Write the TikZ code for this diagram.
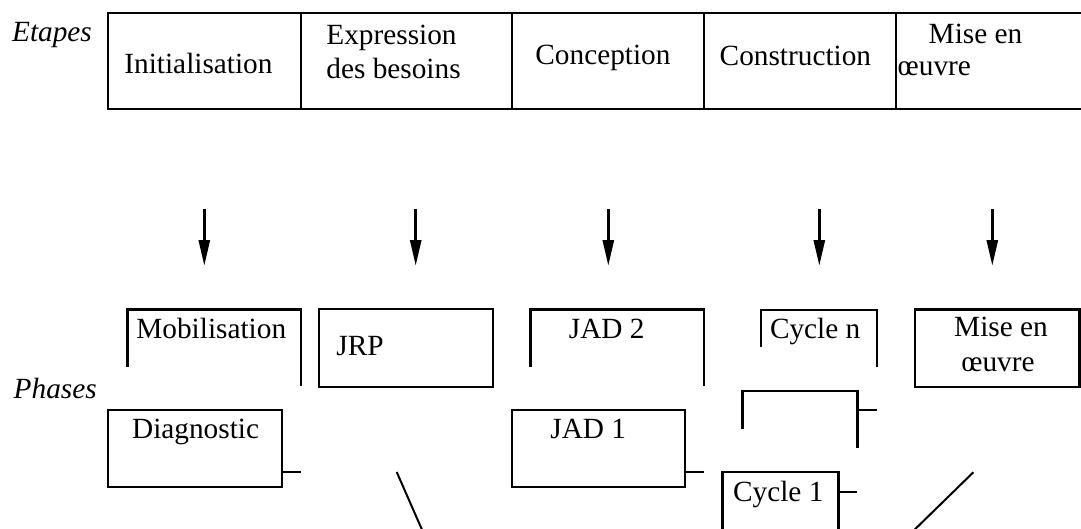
\documentclass[tikz,border=0pt]{standalone}
\usepackage{fontspec}
\setmainfont{Liberation Serif}
\usetikzlibrary{arrows.meta}
\begin{document}
\begin{tikzpicture}[x=0.5pt,y=-0.5pt,
  txt/.style={inner sep=0pt, anchor=base west, font=\fontsize{14.65}{17.5}\selectfont},
  ctxt/.style={txt, anchor=base},
  itxt/.style={txt, font=\fontsize{14.65}{17.5}\selectfont\itshape},
  ln/.style={line width=1pt},
  brk/.style={line width=1.2pt},
  arr/.style={line width=1.3pt, -{Triangle[length=12.8pt,width=5.5pt]}}]
\clip (0,0) rectangle (1081,529);
\useasboundingbox (0,0) rectangle (1081,529);

% ---- Etapes table ----
\draw[ln] (108,13.3) rectangle (1095,109.3);
\foreach \x in {300.7,512.3,704,895.7} \draw[ln] (\x,13.3) -- (\x,109.3);
\node[itxt] (etapes) at (11.7,42) {Etapes};
\node[txt] (init) at (124,74) {Initialisation};
\node[txt] (expr1) at (326,45) {Expression};
\node[txt] (expr2) at (326,79) {des besoins};
\node[txt] (conc) at (535,65) {Conception};
\node[txt] (constr) at (719.3,65.5) {Construction};
\node[txt] (mise1) at (928.3,43.5) {Mise en};
\node[txt] (mise2) at (897.3,76) {œuvre};

% ---- arrows ----
\foreach \i/\x in {1/204.3,2/415.7,3/608.3,4/819.3,5/992.3}{
  \coordinate (as\i) at (\x,209);
  \coordinate (ae\i) at (\x,265.7);
  \draw[arr] (as\i) -- (ae\i);
}

% ---- Phases ----
\node[itxt] (phases) at (13.3,398) {Phases};

% Mobilisation (open bracket)
\draw[brk] (127.3,366.7) -- (127.3,309.3) -- (301,309.3) -- (301,386);
\node[txt] (mob) at (136,338.3) {Mobilisation};

% JRP
\draw[ln] (319.3,309.3) rectangle (493.3,386.7);
\node[txt] (jrp) at (336,355) {JRP};

% JAD 2 (open bracket)
\draw[brk] (530.4,366.7) -- (530.4,309.3) -- (703.7,309.3) -- (703.7,386);
\node[txt] (jad2) at (568.5,338.3) {JAD 2};

% Cycle n (open bracket)
\draw[ln] (761,347.3) -- (761,310) -- (876.7,310) -- (876.7,366.7);
\node[txt] (cyn) at (769.6,338.3) {Cycle n};

% Mise en oeuvre
\draw[brk] (914.8,309.3) rectangle (1079.5,386.7);
\node[ctxt] (mo1) at (1001,336) {Mise en};
\node[ctxt] (mo2) at (998,371) {œuvre};

% Diagnostic
\draw[ln] (108,410) rectangle (282,487.3);
\draw[ln] (282,472) -- (301,472);
\node[txt] (diag) at (131.7,438.3) {Diagnostic};

% JAD 1
\draw[ln] (511.9,410) rectangle (685.2,487.3);
\draw[ln] (685.2,472) -- (703.7,472);
\node[txt] (jad1) at (550,438.3) {JAD 1};

% middle bracket
\draw[brk] (742.6,429.3) -- (742.6,390.7) -- (857.4,390.7) -- (857.4,448.3);
\draw[ln] (857.4,410) -- (876.7,410);

% Cycle 1
\draw[brk] (722.5,540) -- (722.5,472) -- (838.5,472) -- (838.5,540);
\draw[ln] (838.5,491.7) -- (856.7,491.7);
\node[txt] (cy1) at (732.7,501.7) {Cycle 1};

% diagonals
\draw[ln] (396.7,472) -- (426.5,540);
\draw[ln] (973.3,472.3) -- (904,540);
\end{tikzpicture}
\end{document}
